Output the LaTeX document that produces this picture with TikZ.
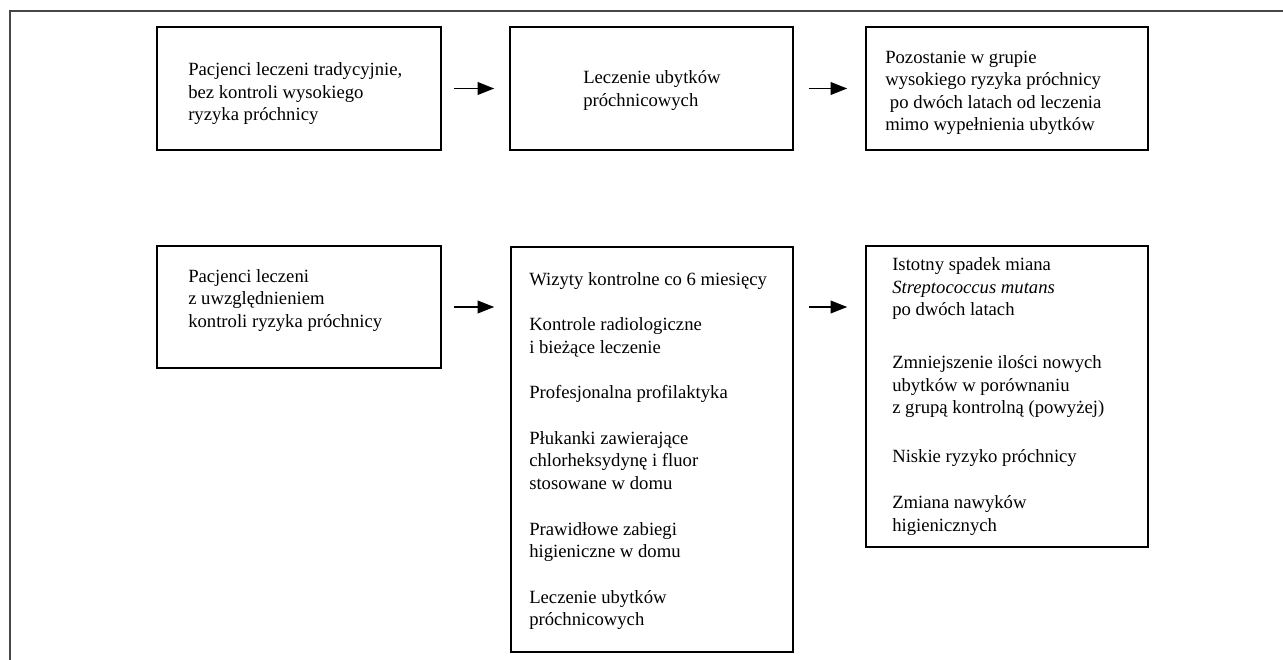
\documentclass[tikz,border=0pt]{standalone}
\usepackage{fontspec}
\setmainfont{Liberation Serif}
\usetikzlibrary{arrows.meta}
\tikzset{
  box/.style={draw=black, line width=1.15pt, rectangle, inner sep=0pt},
  txt/.style={inner sep=0pt, anchor=west, align=left, font=\fontsize{14pt}{16.9pt}\selectfont},
  arr/.style={line width=1.3pt, -{Triangle[length=12.5pt,width=9.5pt]}},
  frameline/.style={draw=black!72, line width=1.1pt}
}
\begin{document}
\begin{tikzpicture}[x=0.75pt,y=-0.75pt]
\useasboundingbox (0,0) rectangle (1283,660);
\draw[frameline] (10,660) -- (10,11) -- (1283,11);
% boxes
\node[box, minimum width=284*0.75pt, minimum height=123*0.75pt] (b1) at (299,88.5) {};
\node[box, minimum width=283*0.75pt, minimum height=123*0.75pt] (b2) at (651.5,88.5) {};
\node[box, minimum width=282*0.75pt, minimum height=123*0.75pt] (b3) at (1007,88.5) {};
\node[box, minimum width=284*0.75pt, minimum height=122*0.75pt] (b4) at (299,307) {};
\node[box, minimum width=282*0.75pt, minimum height=405*0.75pt] (b5) at (652,449.5) {};
\node[box, minimum width=282*0.75pt, minimum height=301*0.75pt] (b6) at (1007,396.5) {};
% texts
\node[txt] (t1) at (188,94) {Pacjenci leczeni tradycyjnie,\\bez kontroli wysokiego\\ryzyka próchnicy};
\node[txt] (t2) at (583,90.5) {Leczenie ubytków\\próchnicowych};
\node[txt] (t3) at (885,93) {Pozostanie w grupie\\wysokiego ryzyka próchnicy\\\hspace{0.25em}po dwóch latach od leczenia\\mimo wypełnienia ubytków};
\node[txt] (t4) at (188,300.5) {Pacjenci leczeni\\z uwzględnieniem\\kontroli ryzyka próchnicy};
\node[txt] (t5) at (529,451) {Wizyty kontrolne co 6 miesięcy\\[17.3pt]Kontrole radiologiczne\\i bieżące leczenie\\[17.3pt]Profesjonalna profilaktyka\\[17.3pt]Płukanki zawierające\\chlorheksydynę i fluor\\stosowane w domu\\[17.3pt]Prawidłowe zabiegi\\higieniczne w domu\\[17.3pt]Leczenie ubytków\\próchnicowych};
\node[txt] (t6) at (892,396.5) {Istotny spadek miana\\\textit{Streptococcus mutans}\\po dwóch latach\\[23pt]Zmniejszenie ilości nowych\\ubytków w porównaniu\\z grupą kontrolną (powyżej)\\[19.5pt]Niskie ryzyko próchnicy\\[18pt]Zmiana nawyków\\higienicznych};
% arrows
\draw[arr, shorten <=9pt, shorten >=11.25pt] (b1) -- (b2);
\draw[arr, shorten <=11.25pt, shorten >=13.5pt] (b2) -- (b3);
\draw[arr, shorten <=9pt, shorten >=12pt] (b4.east) -- (b4.east -| b5.west);
\draw[arr, shorten <=11.25pt, shorten >=13.5pt] (b5.east |- b4.east) -- (b6.west |- b4.east);
\end{tikzpicture}
\end{document}
